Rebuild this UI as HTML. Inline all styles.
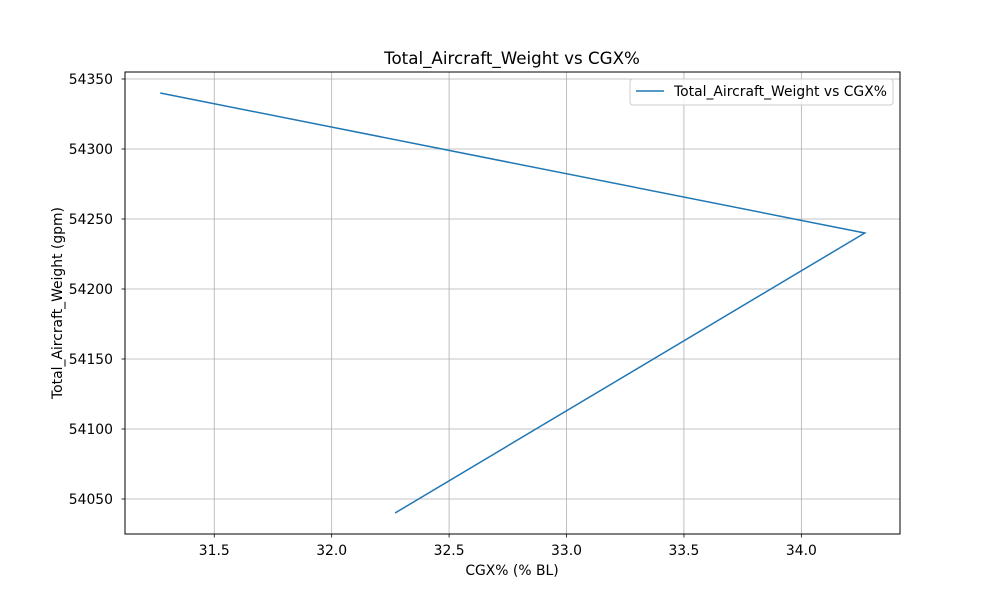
<!DOCTYPE html>
<html><head><meta charset="utf-8"><style>
body{margin:0;background:#fff;}
svg{font-family:"DejaVu Sans","Liberation Sans",sans-serif;}
</style></head><body>
<svg id="chart" width="1000" height="600">
<rect width="1000" height="600" fill="#fff"/>
<g id="grid"></g>
<g id="ticks"></g>
<path id="line" fill="none" stroke="#1f77b4" stroke-width="1.5"/>
<rect x="125" y="72" width="775" height="462" fill="none" stroke="#000" stroke-width="1"/>
<text x="512" y="64" text-anchor="middle" font-size="16.7">Total_Aircraft_Weight vs CGX%</text>
<text x="512" y="575" text-anchor="middle" font-size="13.9">CGX% (% BL)</text>
<text transform="translate(62,303) rotate(-90)" text-anchor="middle" font-size="13.9">Total_Aircraft_Weight (gpm)</text>
<g>
<rect x="630" y="79" width="263" height="26" rx="3" fill="#fff" fill-opacity="0.8" stroke="#ccc"/>
<line x1="636" y1="91" x2="664" y2="91" stroke="#1f77b4" stroke-width="1.5"/>
<text x="674" y="96" font-size="13.9">Total_Aircraft_Weight vs CGX%</text>
</g>
</svg>
<script>
const xs=[32.27,34.27,31.27];
const ys=[54040,54240,54340];
const xTicks=[31.5,32.0,32.5,33.0,33.5,34.0];
const yTicks=[54050,54100,54150,54200,54250,54300,54350];
const X0=125,X1=900,Y0=534,Y1=72;
const xmin=31.12,xmax=34.42,ymin=54025,ymax=54355;
const sx=v=>X0+(v-xmin)/(xmax-xmin)*(X1-X0);
const sy=v=>Y0-(v-ymin)/(ymax-ymin)*(Y0-Y1);
const NS="http://www.w3.org/2000/svg";
const grid=document.getElementById('grid'),ticks=document.getElementById('ticks');
function mk(tag,attrs,parent){const e=document.createElementNS(NS,tag);for(const k in attrs)e.setAttribute(k,attrs[k]);parent.appendChild(e);return e;}
xTicks.forEach(t=>{const x=sx(t);
 const g=mk('line',{x1:x,x2:x,y1:Y1,y2:Y0,stroke:'#b0b0b0','stroke-width':0.8},grid);
 
 
 const tk=mk('line',{x1:x,x2:x,y1:Y0,y2:Y0+3.5,stroke:'#000','stroke-width':0.8},ticks);
 
 
 const tx=mk('text',{x:x,y:Y0+21,'text-anchor':'middle','font-size':13.9},ticks);tx.textContent=t.toFixed(1);
 
 });
yTicks.forEach(t=>{const y=sy(t);
 const g=mk('line',{x1:X0,x2:X1,y1:y,y2:y,stroke:'#b0b0b0','stroke-width':0.8},grid);
 
 
 const tk=mk('line',{x1:X0-3.5,x2:X0,y1:y,y2:y,stroke:'#000','stroke-width':0.8},ticks);
 
 
 const tx=mk('text',{x:X0-12,y:y+5,'text-anchor':'end','font-size':13.9},ticks);tx.textContent=t;
 
 });
document.getElementById('line').setAttribute('d',xs.map((v,i)=>(i?'L':'M')+sx(v)+' '+sy(ys[i])).join(' '));
</script>
</body></html>
